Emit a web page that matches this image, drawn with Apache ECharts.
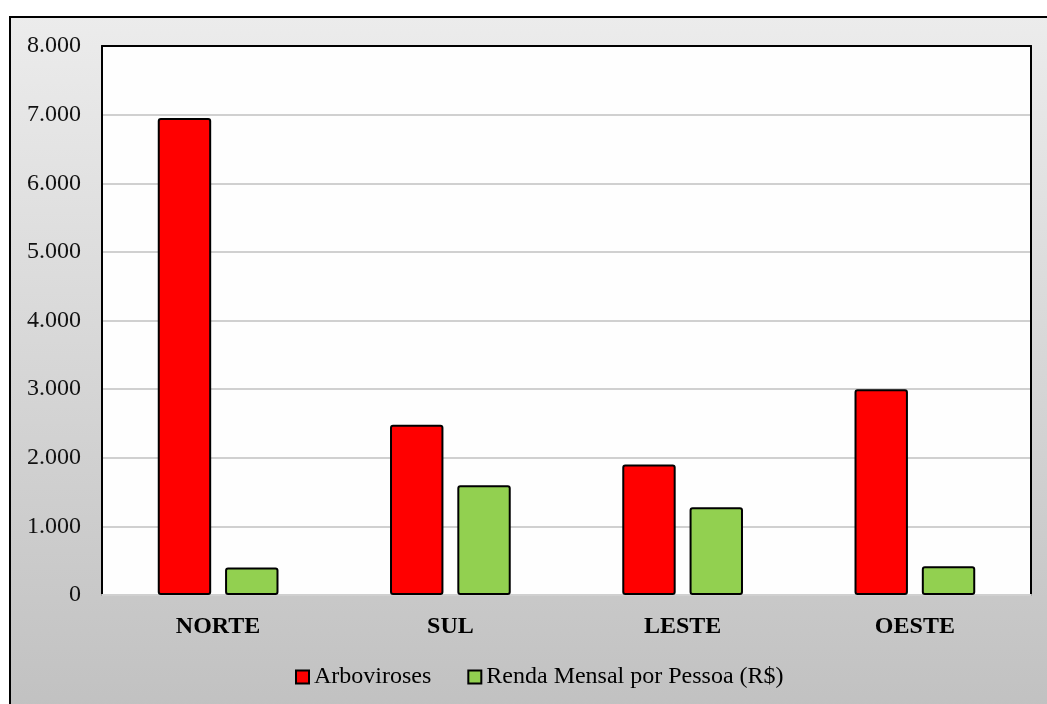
<!DOCTYPE html>
<html>
	<head>
		<meta charset="utf-8">
		<script src="https://cdn.jsdelivr.net/npm/echarts@6/dist/echarts.min.js"></script>
		<title>Arboviroses x Renda</title>
	</head>
	<body>
		<style>
			html,
			body,
			#main {
				width: 100%;
				height: 100%;
				margin: 0;
				background: #fff;
			}
		</style>
		<div id="main"></div>
		<script type="text/javascript">
			// dados
			var regioes = ['NORTE', 'SUL', 'LESTE', 'OESTE'];
			var arboviroses = [6950, 2480, 1900, 3000];
			var renda = [400, 1600, 1280, 420];
			var nomes = ['Arboviroses', 'Renda Mensal por Pessoa (R$)'];

			var fonte = '"Liberation Serif", "Times New Roman", serif';

			// separador de milhar com ponto
			function milhar(v) {
				return String(v).replace(/\B(?=(\d{3})+(?!\d))/g, '.');
			}

			var myChart = echarts.init(document.getElementById('main'));

			var option = {
				animation: false,
				textStyle: { fontFamily: fonte },
				// fundo cinza em degradê com borda preta
				graphic: [{
					type: 'rect',
					left: 9,
					top: 16,
					z: -10,
					shape: { width: 1100, height: 760 },
					style: {
						fill: new echarts.graphic.LinearGradient(0, 0, 0, 1, [
							{ offset: 0, color: '#ececec' },
							{ offset: 1, color: '#bdbdbd' }
						]),
						stroke: '#000',
						lineWidth: 2
					}
				}],
				grid: {
					left: 102,
					right: 16,
					top: 46,
					bottom: 109,
					show: true,
					backgroundColor: '#fefefe',
					borderWidth: 0
				},
				legend: {
					bottom: 10,
					left: 290,
					itemWidth: 13,
					itemHeight: 13,
					itemGap: 36,
					icon: 'rect',
					textStyle: { fontFamily: fonte, fontSize: 24, color: '#000' },
					data: nomes
				},
				xAxis: [{
					type: 'category',
					data: regioes,
					axisTick: { show: false },
					axisLine: { onZero: false, lineStyle: { color: '#d0d0d0', width: 2 } },
					axisLabel: {
						fontFamily: fonte,
						fontSize: 24,
						fontWeight: 'bold',
						color: '#000',
						margin: 20
					}
				}, {
					type: 'category',
					position: 'top',
					data: regioes,
					axisTick: { show: false },
					axisLabel: { show: false },
					axisLine: { onZero: false, lineStyle: { color: '#000', width: 2 } }
				}],
				yAxis: [{
					type: 'value',
					min: 0,
					max: 8000,
					interval: 1000,
					axisLine: { show: true, onZero: false, lineStyle: { color: '#000', width: 2 } },
					axisTick: { show: false },
					splitLine: { lineStyle: { color: '#d0d0d0', width: 2 } },
					axisLabel: {
						fontFamily: fonte,
						fontSize: 24,
						color: '#111',
						margin: 21,
						formatter: milhar
					}
				}, {
					type: 'value',
					position: 'right',
					min: 0,
					max: 8000,
					interval: 1000,
					axisLine: { show: true, onZero: false, lineStyle: { color: '#000', width: 2 } },
					axisTick: { show: false },
					axisLabel: { show: false },
					splitLine: { show: false }
				}],
				series: [{
					name: nomes[0],
					type: 'bar',
					data: arboviroses,
					barWidth: '23%',
					barGap: '26%',
					itemStyle: {
						color: '#ff0000',
						borderColor: '#000',
						borderWidth: 2,
						borderRadius: 2
					}
				}, {
					name: nomes[1],
					type: 'bar',
					data: renda,
					barWidth: '23%',
					itemStyle: {
						color: '#92d050',
						borderColor: '#000',
						borderWidth: 2,
						borderRadius: 2
					}
				}]
			};

			myChart.setOption(option);

			window.onresize = function() {
				myChart.resize();
			}
		</script>
	</body>
</html>
